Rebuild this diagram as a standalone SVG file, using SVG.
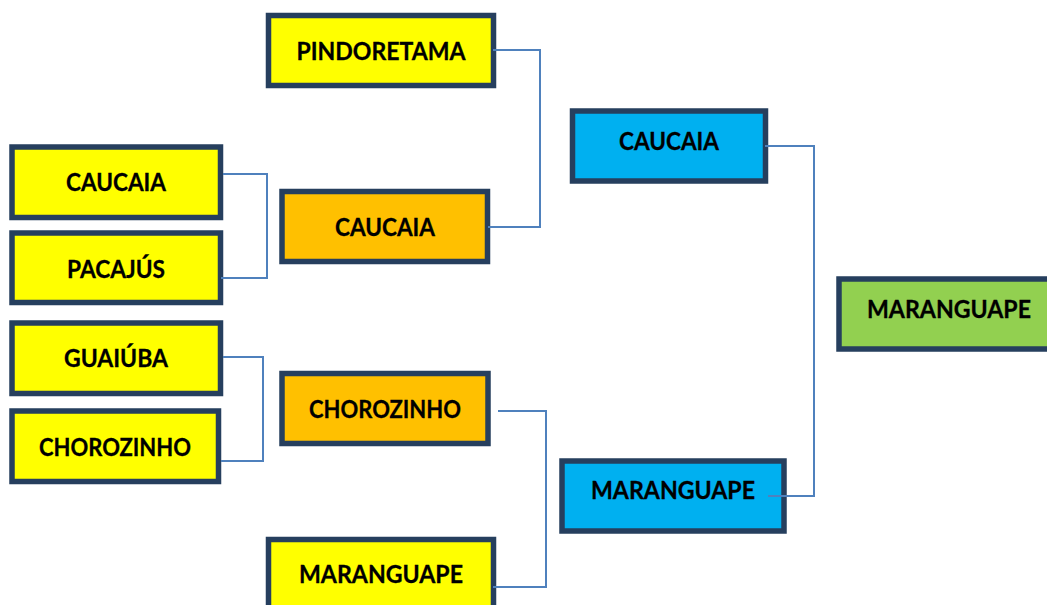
<svg xmlns="http://www.w3.org/2000/svg" width="1047" height="605" viewBox="0 0 1047 605">
<style>
.box{stroke:#263F5E;stroke-width:5.5}
.y{fill:#FFFF00}.o{fill:#FFC000}.b{fill:#00B0F0}.g{fill:#92D050}
.t{font-family:Lato,"Open Sans","Liberation Sans",sans-serif;font-weight:bold;font-size:25px;fill:#000;text-anchor:middle;stroke:#000;stroke-width:0.3}
.c{fill:none;stroke:#4F81BD;stroke-width:2}
</style>
<rect width="1047" height="605" fill="#fff"/>
<g id="n-pindoretama"><rect class="box y" x="268.5" y="15.5" width="225" height="70"/><text class="t" x="381" y="60" textLength="169" lengthAdjust="spacingAndGlyphs">PINDORETAMA</text></g>
<g id="n-caucaia-1"><rect class="box y" x="12" y="147" width="208.5" height="70.5"/><text class="t" x="116" y="191" textLength="100" lengthAdjust="spacingAndGlyphs">CAUCAIA</text></g>
<g id="n-pacajus"><rect class="box y" x="12" y="233" width="208.5" height="69.5"/><text class="t" x="116" y="278" textLength="98" lengthAdjust="spacingAndGlyphs">PACAJÚS</text></g>
<g id="n-guaiuba"><rect class="box y" x="12" y="323" width="208.5" height="70.5"/><text class="t" x="116" y="367" textLength="104" lengthAdjust="spacingAndGlyphs">GUAIÚBA</text></g>
<g id="n-chorozinho-1"><rect class="box y" x="12" y="411" width="206.5" height="70.5"/><text class="t" x="115" y="456" textLength="152" lengthAdjust="spacingAndGlyphs">CHOROZINHO</text></g>
<g id="n-caucaia-2"><rect class="box o" x="282" y="191.5" width="205.5" height="70"/><text class="t" x="385" y="236" textLength="100" lengthAdjust="spacingAndGlyphs">CAUCAIA</text></g>
<g id="n-chorozinho-2"><rect class="box o" x="282" y="373.5" width="206" height="70"/><text class="t" x="385" y="418" textLength="152" lengthAdjust="spacingAndGlyphs">CHOROZINHO</text></g>
<g id="n-maranguape-1"><rect class="box y" x="268.5" y="539.5" width="225" height="70"/><text class="t" x="381" y="583" textLength="164" lengthAdjust="spacingAndGlyphs">MARANGUAPE</text></g>
<g id="n-caucaia-3"><rect class="box b" x="572.5" y="111" width="193" height="70"/><text class="t" x="669" y="150" textLength="100" lengthAdjust="spacingAndGlyphs">CAUCAIA</text></g>
<g id="n-maranguape-2"><rect class="box b" x="562" y="461" width="222" height="70"/><text class="t" x="673" y="499" textLength="164" lengthAdjust="spacingAndGlyphs">MARANGUAPE</text></g>
<g id="n-maranguape-3"><rect class="box g" x="839" y="279" width="220" height="70"/><text class="t" x="949" y="318" textLength="164" lengthAdjust="spacingAndGlyphs">MARANGUAPE</text></g>
<g id="connectors">
<path class="c" d="M223 174H267V278H221"/>
<path class="c" d="M223 357H263V461H221"/>
<path class="c" d="M493 50H540V227H488"/>
<path class="c" d="M498 411H546V587H493"/>
<path class="c" d="M765 146H814V496H768"/>
</g>
</svg>
